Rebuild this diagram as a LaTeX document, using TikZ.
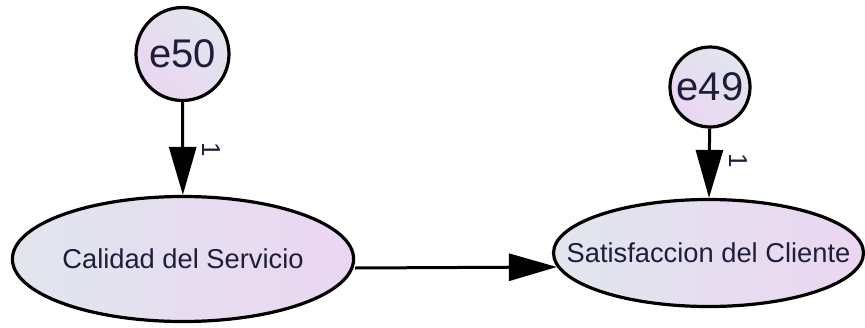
\documentclass[tikz,border=0pt]{standalone}
\usepackage{fontspec}
\setmainfont{Liberation Sans}
\usetikzlibrary{arrows.meta,shapes.geometric}

\definecolor{fillleft}{HTML}{E1E6EE}
\definecolor{fillright}{HTML}{EBD6F1}
\definecolor{labelink}{HTML}{1E1E3C}

\begin{document}
\begin{tikzpicture}[x=1pt, y=-1pt,
  latent/.style={ellipse, draw, line width=3.2pt, inner sep=0pt,
    left color=fillleft, right color=fillright, text=labelink,
    font=\fontsize{27.3}{30}\selectfont},
  error/.style={circle, draw, line width=3.2pt, inner sep=0pt,
    shading=axis, left color=fillleft, right color=fillright, shading angle=-45,
    text=labelink, font=\fontsize{40}{44}\selectfont},
  weight/.style={rotate=-90, inner sep=0pt, text=labelink,
    font=\fontsize{26}{28}\selectfont},
  every edge/.style={draw, line width=3pt, -{Triangle[length=48pt,width=27pt]}}]

  \useasboundingbox (0,0) rectangle (865,327);

  \node[error, minimum size=93pt] (e50) at (182.5, 54) {e50};
  \node[error, minimum size=80pt] (e49) at (710, 87) {e49};

  \node[latent, minimum width=337pt, minimum height=125pt] (cal) at (183, 259) {Calidad del Servicio};
  \node[latent, inner xsep=-34pt, minimum width=310pt, minimum height=107pt] (sat) at (708.5, 253) {Satisfaccion del Cliente};

  \node[weight] (w50) at (211, 150) {1};
  \node[weight] (w49) at (738, 161) {1};

  \path (e50) edge (cal);
  \path (e49) edge (sat);
  \path ([yshift=-9pt]cal.east) edge ([xshift=5pt, yshift=-14pt]sat.west);

\end{tikzpicture}
\end{document}
